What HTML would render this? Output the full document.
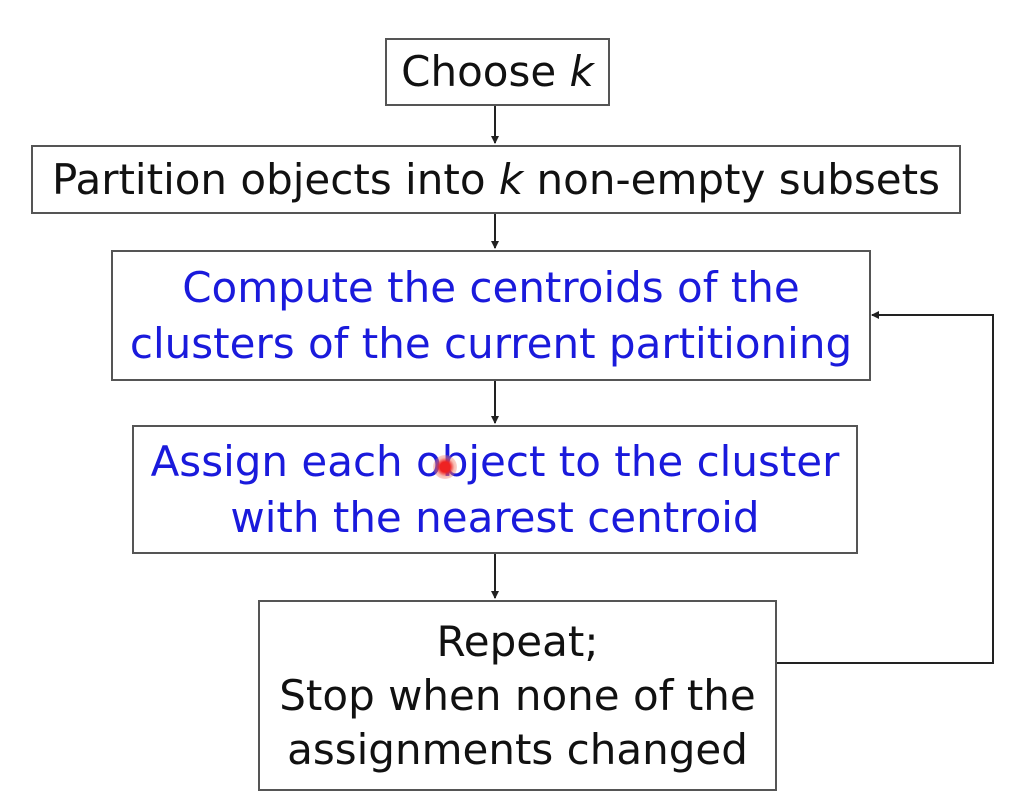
<!DOCTYPE html>
<html><head><meta charset="utf-8"><style>
html,body{margin:0;padding:0;background:#fff;width:1025px;height:807px;overflow:hidden;position:relative;font-family:"DejaVu Sans","Liberation Sans",sans-serif;}
.b{position:absolute;border:2px solid #555;box-sizing:border-box;display:flex;align-items:center;justify-content:center;text-align:center;font-size:42px;line-height:56px;color:#111;background:#fff;white-space:nowrap;}
.blue{color:#1a1adc;}
i{font-style:italic;}
svg{position:absolute;left:0;top:0;}
</style></head><body>
<svg width="1025" height="807">
<defs><marker id="a" markerWidth="8" markerHeight="8" refX="7" refY="4" orient="auto" markerUnits="userSpaceOnUse"><path d="M0,0 L8,4 L0,8 z" fill="#222"/></marker></defs>
<g stroke="#222" stroke-width="2" fill="none">
<line x1="495" y1="105" x2="495" y2="143" marker-end="url(#a)"/>
<line x1="495" y1="213" x2="495" y2="248" marker-end="url(#a)"/>
<line x1="495" y1="380" x2="495" y2="423" marker-end="url(#a)"/>
<line x1="495" y1="553" x2="495" y2="598" marker-end="url(#a)"/>
<polyline points="776,663 993,663 993,315 872,315" marker-end="url(#a)"/>
</g>
</svg>
<div class="b" style="left:385px;top:38px;width:225px;height:68px;">Choose&nbsp;<i>k</i></div>
<div class="b" style="left:31px;top:145px;width:930px;height:69px;">Partition objects into&nbsp;<i>k</i>&nbsp;non-empty subsets</div>
<div class="b blue" style="left:111px;top:250px;width:760px;height:131px;">Compute the centroids of the<br>clusters of the current partitioning</div>
<div class="b blue" style="left:132px;top:425px;width:726px;height:129px;">Assign each object to the cluster<br>with the nearest centroid</div>
<div class="b" style="left:258px;top:600px;width:519px;height:191px;line-height:54px;">Repeat;<br>Stop when none of the<br>assignments changed</div>
<div style="position:absolute;left:433px;top:455px;width:24px;height:24px;border-radius:50%;background:radial-gradient(circle,#e22 0,#e22 30%,rgba(240,120,100,.5) 55%,rgba(255,200,190,0) 100%);"></div>
</body></html>
